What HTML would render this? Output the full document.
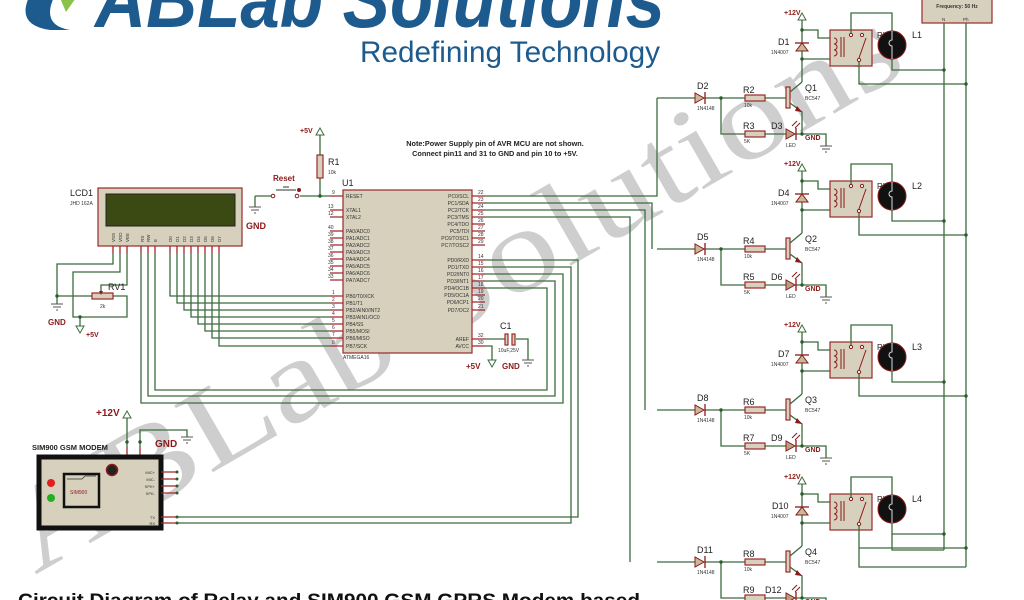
<!DOCTYPE html>
<html><head><meta charset="utf-8"><style>
html,body{margin:0;padding:0;background:#fff;}
svg{display:block;font-family:"Liberation Sans",sans-serif;}
.w{stroke:#3d6b3d;stroke-width:1.3;fill:none;}
.p{stroke:#a02828;stroke-width:1.3;fill:none;}
.c{fill:#d6d0bc;stroke:#9a2a2a;stroke-width:1.2;}
.t{font-size:5px;fill:#333;}
.l{font-size:9px;fill:#222;}
.r{font-size:7px;fill:#8b1a1a;font-weight:bold;}
.n{fill:#2d5a2d;}
</style></head><body>
<svg width="1024" height="600" viewBox="0 0 1024 600" xmlns="http://www.w3.org/2000/svg">
<defs>
<g id="blk">
 <text x="784" y="15" class="r">+12V</text>
 <polygon points="798,20 806,20 802,13" fill="#fff" stroke="#3d6b3d"/>
 <path class="w" d="M802 20 V82 M802 30 H818 V38 H830 M802 59 H830"/>
 <circle cx="802" cy="30" r="1.7" class="n"/><circle cx="802" cy="59" r="1.7" class="n"/>
 <polygon points="796,51 808,51 802,43" fill="#c9b89a" stroke="#8b1a1a"/>
 <line x1="795" y1="43" x2="809" y2="43" stroke="#8b1a1a" stroke-width="1.3"/>
 <text x="771" y="54" class="t">1N4007</text>
 <rect x="830" y="30" width="42" height="36" class="c"/>
 <path d="M834 38 a3 3 0 0 1 0 6 a3 3 0 0 1 0 6 a3 3 0 0 1 0 6" stroke="#8b1a1a" fill="none"/>
 <path d="M841 37 V57 M844 37 V57" stroke="#8b1a1a"/>
 <circle cx="851" cy="35" r="1.6" fill="#fff" stroke="#8b1a1a"/>
 <circle cx="862" cy="35" r="1.6" fill="#fff" stroke="#8b1a1a"/>
 <circle cx="859" cy="60" r="1.6" fill="#fff" stroke="#8b1a1a"/>
 <path d="M859 58 L866 38" stroke="#8b1a1a"/>
 <path class="w" d="M851 33 V13 H892 V31 M892 59 V70 H944 M859 62 V84 H966"/>
 <circle cx="944" cy="70" r="1.7" class="n"/><circle cx="966" cy="84" r="1.7" class="n"/>
 <text x="877" y="38" class="l" style="font-size:8px">RL</text>
 <circle cx="892" cy="45" r="14" fill="#111" stroke="#8b1a1a"/>
 <path d="M892 31 V40 a3 3 0 1 0 0 6 V59" stroke="#ddd" fill="none" stroke-width="1"/>
 <rect x="786" y="87" width="4" height="21" class="c"/>
 <path class="w" d="M790 92 L802 82 M790 103 L802 112 V134"/>
 <polygon points="797,106 802,112 795,111" fill="#8b1a1a"/>
 <text x="805" y="100" class="t">BC547</text>
 <path class="w" d="M657 98 H695 M705 98 H745 M765 98 H786 M721 98 V134 H745 M765 134 H786 M796 134 H826 V146"/>
 <circle cx="721" cy="98" r="1.7" class="n"/><circle cx="802" cy="134" r="1.7" class="n"/>
 <polygon points="695,93 695,103 704,98" fill="#c9b89a" stroke="#8b1a1a"/>
 <line x1="705" y1="92" x2="705" y2="104" stroke="#8b1a1a" stroke-width="1.3"/>
 <text x="697" y="110" class="t">1N4148</text>
 <rect x="745" y="95" width="20" height="6" class="c"/><text x="744" y="107" class="t">10k</text>
 <rect x="745" y="131" width="20" height="6" class="c"/><text x="744" y="143" class="t">5K</text>
 <polygon points="786,129 786,139 795,134" fill="#b8a080" stroke="#8b1a1a"/>
 <line x1="796" y1="128" x2="796" y2="140" stroke="#8b1a1a" stroke-width="1.3"/>
 <path d="M792 126 l5 -5 M795 128 l5 -5" stroke="#8b1a1a"/>
 <text x="786" y="147" class="t">LED</text>
 <text x="805" y="140" class="r">GND</text>
 <path d="M820 146 H832 M822 149 H830 M825 152 H827" stroke="#555"/>
</g>
</defs>

<!-- watermark -->
<text x="0" y="0" transform="translate(35,575) rotate(-30)" font-family="Liberation Serif,serif" font-size="118" fill="#8a8a8a" fill-opacity="0.42" textLength="1010" lengthAdjust="spacingAndGlyphs">ABLab Solutions</text>

<!-- logo -->
<path d="M30 -5 Q15 25 50 30 L70 30 Q40 25 55 -5 Z" fill="#1d5b8f"/>
<path d="M60 -2 L78 -5 L66 12 Z" fill="#8bc34a"/>
<text x="95" y="27" font-size="80" font-weight="bold" font-style="italic" fill="#1d5b8f" textLength="570" lengthAdjust="spacingAndGlyphs">ABLab Solutions</text>
<text x="360" y="62" font-size="30" fill="#1d5b8f" textLength="300" lengthAdjust="spacingAndGlyphs">Redefining Technology</text>

<!-- Frequency box -->
<rect x="922" y="-5" width="70" height="28" class="c"/>
<text x="957" y="8" font-size="5" font-weight="bold" text-anchor="middle" fill="#333">Frequency: 50 Hz</text>
<text x="942" y="21" font-size="4.5" fill="#333">N</text><text x="963" y="21" font-size="4.5" fill="#333">Ph</text>
<path class="w" d="M944 23 V550 M966 23 V567"/>

<use href="#blk"/>
<use href="#blk" transform="translate(0,151)"/>
<use href="#blk" transform="translate(0,312)"/>
<use href="#blk" transform="translate(0,464)"/>
<path class="w" d="M892 534 V550 H944 M859 548 V567 H966"/>

<g class="l">
<text x="778" y="45">D1</text><text x="805" y="91">Q1</text><text x="697" y="89">D2</text><text x="743" y="93">R2</text><text x="743" y="129">R3</text><text x="771" y="129">D3</text><text x="912" y="38">L1</text>
<text x="778" y="196">D4</text><text x="805" y="242">Q2</text><text x="697" y="240">D5</text><text x="743" y="244">R4</text><text x="743" y="280">R5</text><text x="771" y="280">D6</text><text x="912" y="189">L2</text>
<text x="778" y="357">D7</text><text x="805" y="403">Q3</text><text x="697" y="401">D8</text><text x="743" y="405">R6</text><text x="743" y="441">R7</text><text x="771" y="441">D9</text><text x="912" y="350">L3</text>
<text x="772" y="509">D10</text><text x="805" y="555">Q4</text><text x="697" y="553">D11</text><text x="743" y="557">R8</text><text x="743" y="593">R9</text><text x="765" y="593">D12</text><text x="912" y="502">L4</text>
</g>

<!-- MCU to relays -->
<path class="w" d="M485 196 H657 V98 M485 203 H652 V249 M485 210 H645 V410 M485 217 H630 V562"/>

<!-- Note -->
<text x="495" y="146" font-size="7.3" font-weight="bold" text-anchor="middle" fill="#222">Note:Power Supply pin of AVR MCU are not shown.</text>
<text x="495" y="156" font-size="7.3" font-weight="bold" text-anchor="middle" fill="#222">Connect pin11 and 31 to GND and pin 10 to +5V.</text>

<!-- Reset / R1 -->
<text x="300" y="133" class="r">+5V</text>
<polygon points="316,135 324,135 320,128" fill="#fff" stroke="#3d6b3d"/>
<path class="w" d="M320 135 V155 M320 178 V196 M300 196 H330 M255 196 H271 M255 196 V207"/>
<rect x="317" y="155" width="6" height="23" class="c"/>
<text x="328" y="165" class="l">R1</text><text x="328" y="174" class="t">10k</text>
<circle cx="320" cy="196" r="1.7" class="n"/>
<text x="273" y="181" font-size="8" font-weight="bold" fill="#8b1a1a">Reset</text>
<path d="M276 190 H296 M283 187 H289" stroke="#333"/>
<circle cx="273" cy="196" r="1.8" fill="#fff" stroke="#8b1a1a"/><circle cx="297" cy="196" r="1.8" fill="#fff" stroke="#8b1a1a"/>
<circle cx="299" cy="190" r="2" fill="#8b1a1a"/>
<path d="M249 207 H261 M251 210 H259 M254 213 H256" stroke="#555"/>
<text x="246" y="229" class="r" style="font-size:9px">GND</text>

<!-- MCU -->
<text x="342" y="186" class="l">U1</text>
<rect x="343" y="190" width="129" height="163" class="c"/>
<text x="343" y="359" class="t">ATMEGA16</text>
<g class="p">
<path d="M330 196H343M330 210H343M330 217H343M330 231H343M330 238H343M330 245H343M330 252H343M330 259H343M330 266H343M330 273H343M330 280H343M330 296H343M330 303H343M330 310H343M330 317H343M330 324H343M330 331H343M330 338H343M330 346H343"/>
<path d="M472 196H485M472 203H485M472 210H485M472 217H485M472 224H485M472 231H485M472 238H485M472 245H485M472 260H485M472 267H485M472 274H485M472 281H485M472 288H485M472 295H485M472 302H485M472 310H485M472 339H485M472 346H485"/>
</g>
<g class="t">
<text x="346" y="198">RESET</text><text x="346" y="212">XTAL1</text><text x="346" y="219">XTAL2</text>
<text x="346" y="233">PA0/ADC0</text><text x="346" y="240">PA1/ADC1</text><text x="346" y="247">PA2/ADC2</text><text x="346" y="254">PA3/ADC3</text><text x="346" y="261">PA4/ADC4</text><text x="346" y="268">PA5/ADC5</text><text x="346" y="275">PA6/ADC6</text><text x="346" y="282">PA7/ADC7</text>
<text x="346" y="298">PB0/T0/XCK</text><text x="346" y="305">PB1/T1</text><text x="346" y="312">PB2/AIN0/INT2</text><text x="346" y="319">PB3/AIN1/OC0</text><text x="346" y="326">PB4/SS</text><text x="346" y="333">PB5/MOSI</text><text x="346" y="340">PB6/MISO</text><text x="346" y="348">PB7/SCK</text>
<text x="332" y="194">9</text><text x="328" y="208">13</text><text x="328" y="215">12</text>
<text x="328" y="229">40</text><text x="328" y="236">39</text><text x="328" y="243">38</text><text x="328" y="250">37</text><text x="328" y="257">36</text><text x="328" y="264">35</text><text x="328" y="271">34</text><text x="328" y="278">33</text>
<text x="332" y="294">1</text><text x="332" y="301">2</text><text x="332" y="308">3</text><text x="332" y="315">4</text><text x="332" y="322">5</text><text x="332" y="329">6</text><text x="332" y="336">7</text><text x="332" y="344">8</text>
</g>
<g class="t" text-anchor="end">
<text x="469" y="198">PC0/SCL</text><text x="469" y="205">PC1/SDA</text><text x="469" y="212">PC2/TCK</text><text x="469" y="219">PC3/TMS</text><text x="469" y="226">PC4/TDO</text><text x="469" y="233">PC5/TDI</text><text x="469" y="240">PC6/TOSC1</text><text x="469" y="247">PC7/TOSC2</text>
<text x="469" y="262">PD0/RXD</text><text x="469" y="269">PD1/TXD</text><text x="469" y="276">PD2/INT0</text><text x="469" y="283">PD3/INT1</text><text x="469" y="290">PD4/OC1B</text><text x="469" y="297">PD5/OC1A</text><text x="469" y="304">PD6/ICP1</text><text x="469" y="312">PD7/OC2</text>
<text x="469" y="341">AREF</text><text x="469" y="348">AVCC</text>
</g>
<g class="t">
<text x="478" y="194">22</text><text x="478" y="201">23</text><text x="478" y="208">24</text><text x="478" y="215">25</text><text x="478" y="222">26</text><text x="478" y="229">27</text><text x="478" y="236">28</text><text x="478" y="243">29</text>
<text x="478" y="258">14</text><text x="478" y="265">15</text><text x="478" y="272">16</text><text x="478" y="279">17</text><text x="478" y="286">18</text><text x="478" y="293">19</text><text x="478" y="300">20</text><text x="478" y="308">21</text>
<text x="478" y="337">32</text><text x="478" y="344">30</text>
</g>

<!-- C1 / AVCC -->
<path class="w" d="M485 339 H505 M516 339 H528 V360 M485 346 H492 V360"/>
<rect x="505" y="334" width="3" height="11" class="c"/><rect x="512" y="334" width="3" height="11" class="c"/>
<text x="500" y="329" class="l">C1</text><text x="498" y="352" class="t">10uF,25V</text>
<polygon points="488,360 496,360 492,367" fill="#fff" stroke="#3d6b3d"/>
<text x="466" y="369" class="r" style="font-size:8px">+5V</text>
<path d="M522 360 H534 M524 363 H532 M527 366 H529" stroke="#555"/>
<text x="502" y="369" class="r" style="font-size:8px">GND</text>

<!-- PD lines -->
<path class="w" d="M485 260 H578 V517 H177 M485 267 H571 V523 H177 M485 274 H563 V403 H141 V253 M485 281 H555 V396 H148 V253 M485 288 H547 V390 H155 V253"/>
<!-- LCD data lines -->
<path class="w" d="M170 253 V296 H330 M177 253 V303 H330 M184 253 V310 H330 M191 253 V317 H330 M198 253 V324 H330 M205 253 V331 H330 M212 253 V338 H330 M219 253 V346 H330"/>

<!-- LCD -->
<text x="70" y="196" class="l">LCD1</text><text x="70" y="205" class="t">JHD 162A</text>
<rect x="98" y="188" width="144" height="58" class="c"/>
<rect x="106" y="194" width="129" height="32" fill="#3b4a12" stroke="#222"/>
<g class="t" style="font-size:4.5px">
<text transform="translate(115,242) rotate(-90)">VSS</text><text transform="translate(122,242) rotate(-90)">VDD</text><text transform="translate(129,242) rotate(-90)">VEE</text>
<text transform="translate(144,242) rotate(-90)">RS</text><text transform="translate(150,242) rotate(-90)">RW</text><text transform="translate(157,242) rotate(-90)">E</text>
<text transform="translate(172,242) rotate(-90)">D0</text><text transform="translate(179,242) rotate(-90)">D1</text><text transform="translate(186,242) rotate(-90)">D2</text><text transform="translate(193,242) rotate(-90)">D3</text><text transform="translate(200,242) rotate(-90)">D4</text><text transform="translate(207,242) rotate(-90)">D5</text><text transform="translate(214,242) rotate(-90)">D6</text><text transform="translate(221,242) rotate(-90)">D7</text>
</g>
<path class="p" d="M113 246V253M120 246V253M127 246V253M141 246V253M148 246V253M155 246V253M170 246V253M177 246V253M184 246V253M191 246V253M198 246V253M205 246V253M212 246V253M219 246V253"/>
<path class="w" d="M113 253 V264 H57 V304 M120 253 V272 H73 V317 H80 V326 M127 253 V285 H101 V293 M57 296 H92 M113 296 H127 V317 H80"/>
<circle cx="57" cy="296" r="1.7" class="n"/><circle cx="80" cy="317" r="1.7" class="n"/>
<rect x="92" y="293" width="21" height="6" class="c"/>
<polygon points="99,291 103,291 101,295" fill="#8b1a1a"/>
<text x="108" y="290" class="l">RV1</text><text x="100" y="308" class="t">2k</text>
<path d="M51 304 H63 M53 307 H61 M56 310 H58" stroke="#555"/>
<text x="48" y="325" class="r" style="font-size:8px">GND</text>
<polygon points="76,326 84,326 80,333" fill="#fff" stroke="#3d6b3d"/>
<text x="86" y="337" class="r" style="font-size:7px">+5V</text>

<!-- GSM modem -->
<text x="96" y="416" class="r" style="font-size:10px">+12V</text>
<polygon points="123,418 131,418 127,411" fill="#fff" stroke="#3d6b3d"/>
<path class="w" d="M127 418 V447 M140 447 V430 H187 V437"/>
<circle cx="127" cy="442" r="1.7" class="n"/><circle cx="140" cy="442" r="1.7" class="n"/>
<path class="p" d="M127 447 V455 M140 447 V455"/>
<path d="M181 437 H193 M183 440 H191 M186 443 H188" stroke="#555"/>
<text x="155" y="447" class="r" style="font-size:10px">GND</text>
<text x="32" y="450" font-size="7.5" font-weight="bold" fill="#222">SIM900 GSM MODEM</text>
<rect x="39" y="457" width="122" height="71" fill="#d6d0bc" stroke="#111" stroke-width="5"/>
<rect x="64" y="474" width="35" height="33" fill="#d6d0bc" stroke="#111" stroke-width="2.5"/>
<path d="M67 479 H82 L85 476 H96" stroke="#333" fill="none" stroke-width="0.7"/>
<text x="70" y="494" font-size="5" fill="#8b1a1a">SIM900</text>
<circle cx="51" cy="483" r="4" fill="#e02020"/><circle cx="51" cy="498" r="4" fill="#22b022"/>
<circle cx="112" cy="470" r="5.5" fill="#222" stroke="#8b1a1a" stroke-width="1.5"/>
<g class="t" style="font-size:4px" text-anchor="end">
<text x="155" y="474">MIC+</text><text x="155" y="481">MIC-</text><text x="155" y="488">SPK+</text><text x="155" y="495">SPK-</text><text x="155" y="519">TX</text><text x="155" y="525">RX</text>
</g>
<path class="p" d="M161 472H177M161 479H177M161 486H177M161 493H177M161 517H177M161 523H177"/>
<g class="n"><circle cx="177" cy="472" r="1.5"/><circle cx="177" cy="479" r="1.5"/><circle cx="177" cy="486" r="1.5"/><circle cx="177" cy="493" r="1.5"/><circle cx="177" cy="517" r="1.5"/><circle cx="177" cy="523" r="1.5"/></g>

<!-- caption -->
<text x="18" y="607" font-size="19" font-weight="bold" fill="#111" textLength="622" lengthAdjust="spacingAndGlyphs">Circuit Diagram of Relay and SIM900 GSM GPRS Modem based</text>
</svg>
</body></html>
